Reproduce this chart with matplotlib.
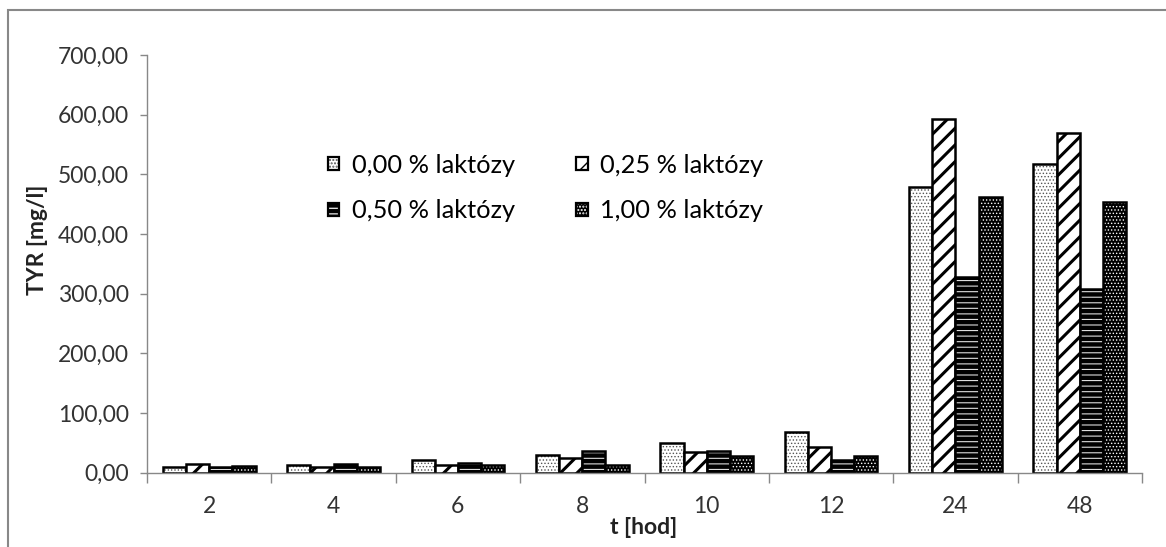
import numpy as np
import matplotlib
matplotlib.use("Agg")
import matplotlib.pyplot as plt
from matplotlib.patches import Patch, Rectangle
from matplotlib.ticker import FixedLocator, FuncFormatter
from matplotlib.legend_handler import HandlerTuple

# hodiny odberu
hours = ["2", "4", "6", "8", "10", "12", "24", "48"]
# TYR [mg/l] pro jednotlive koncentrace laktozy
lact_000 = [10, 13, 21, 29, 49, 68, 479, 517]
lact_025 = [14, 10, 13, 25, 34, 42, 593, 570]
lact_050 = [9, 14, 16, 36, 36, 21, 327, 307]
lact_100 = [11, 9, 13, 12, 27, 27, 462, 454]
labels = ["0,00 % laktózy", "0,25 % laktózy", "0,50 % laktózy", "1,00 % laktózy"]

plt.rcParams["font.family"] = ["Lato", "DejaVu Sans"]

# (face, hatch, hatch colour, hatch linewidth)
styles = [
    ("white", ".....", "#555555", 0.6),
    ("white", "//", "black", 2.2),
    ("black", "---", "#dddddd", 0.8),
    ("black", ".....", "white", 0.6),
]
series = [lact_000, lact_025, lact_050, lact_100]

fig = plt.figure(figsize=(11.66, 5.47), dpi=100)
ax = fig.add_axes([147 / 1166, 1 - 472.5 / 547, 995 / 1166, (472.5 - 55) / 547])

x = np.arange(len(hours))
width = 0.745 / 4
handles = []
for i, (vals, (face, hatch, hcol, hlw)) in enumerate(zip(series, styles)):
    pos = x + (i - 1.5) * width
    with plt.rc_context({"hatch.linewidth": hlw}):
        fill = ax.bar(pos, vals, width, color=face, edgecolor=hcol, hatch=hatch, linewidth=0)
        for p in fill:
            if hasattr(p, "set_hatch_linewidth"):
                p.set_hatch_linewidth(hlw)
        ax.bar(pos, vals, width, fill=False, edgecolor="black", linewidth=1.8)
        h_fill = Patch(facecolor=face, edgecolor=hcol, hatch=hatch, linewidth=0)
        if hasattr(h_fill, "set_hatch_linewidth"):
            h_fill.set_hatch_linewidth(hlw)
    h_edge = Patch(fill=False, edgecolor="black", linewidth=1.6)
    handles.append((h_fill, h_edge))

ax.set_xlim(-0.5, len(hours) - 0.5)
ax.set_ylim(0, 700)
ax.set_yticks(np.arange(0, 701, 100))
ax.yaxis.set_major_formatter(FuncFormatter(lambda v, _: f"{v:.2f}".replace(".", ",")))
ax.set_xticks(x)
ax.set_xticklabels(hours)
ax.xaxis.set_minor_locator(FixedLocator(np.arange(-0.5, len(hours), 1.0)))

ax.tick_params(axis="x", which="major", length=0, pad=17, labelsize=16.5, colors="#333333")
ax.tick_params(axis="x", which="minor", length=7, width=1, color="#888888", direction="out")
ax.tick_params(axis="y", length=5, width=1, color="#888888", pad=8, labelsize=16.5, labelcolor="#333333")

for s in ["top", "right"]:
    ax.spines[s].set_visible(False)
for s in ["left", "bottom"]:
    ax.spines[s].set_color("#888888")
    ax.spines[s].set_linewidth(1)

fig.text(37 / 1166, 1 - 240 / 547, "TYR [mg/l]", rotation=90, ha="center", va="center",
         fontsize=16.5, fontweight="bold", color="#222222")
fig.text(644 / 1166, 1 - 528 / 547, "t [hod]", ha="center", va="center",
         fontsize=16.5, fontweight="bold", color="#222222")

# legenda po radcich: (0,00 | 0,25) nad (0,50 | 1,00)
order = [0, 2, 1, 3]
fig.legend([handles[k] for k in order], [labels[k] for k in order], ncol=2,
           loc="center left", bbox_to_anchor=(305 / 1166, 1 - 188 / 547),
           frameon=False, fontsize=18.3, handlelength=0.45, handleheight=0.45,
           handletextpad=0.5, columnspacing=2.4, labelspacing=0.9,
           handler_map={tuple: HandlerTuple(ndivide=1, pad=0)})

# ramecek grafu
fig.patches.append(Rectangle((8 / 1166, -0.5), 2, 1.5 - 10 / 547, transform=fig.transFigure,
                             fill=False, edgecolor="#888888", linewidth=1.5))

fig.savefig("out.png", dpi=100)
